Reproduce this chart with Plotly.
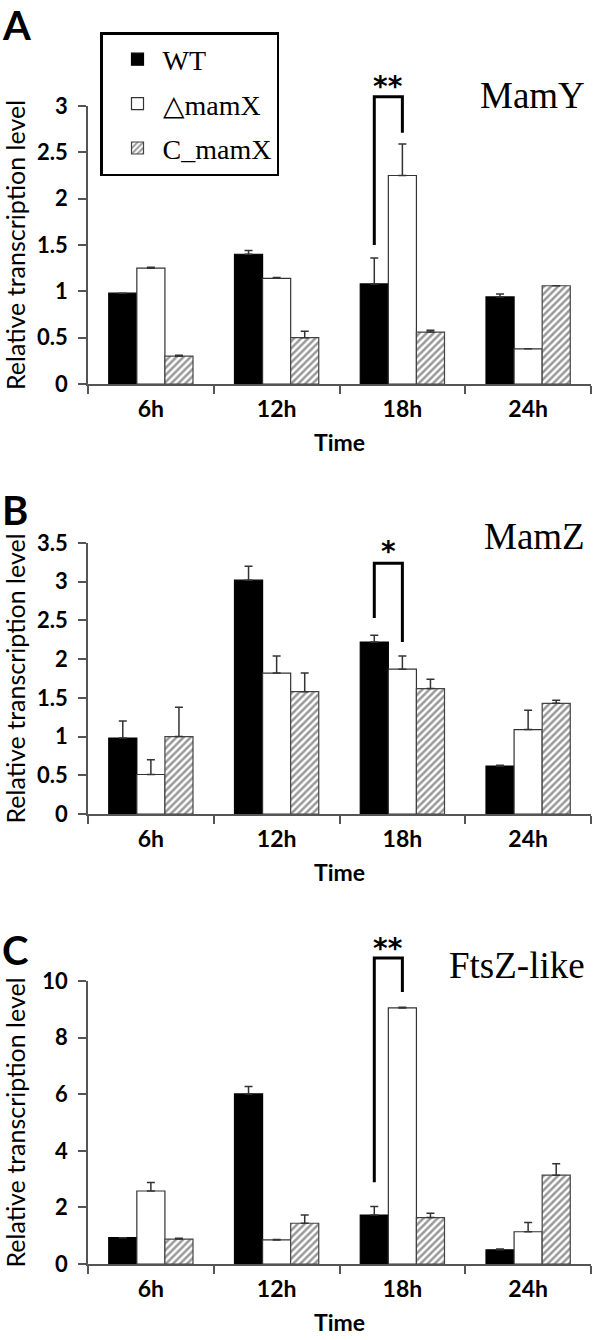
import plotly.graph_objects as go

# ---------------- data ----------------
times = ["6h", "12h", "18h", "24h"]
series_names = ["WT", "\u25b3mamX", "C_mamX"]

mamy_wt = [0.98, 1.40, 1.08, 0.94]
mamy_wt_err = [0.0, 0.04, 0.28, 0.03]
mamy_dmamx = [1.25, 1.14, 2.25, 0.38]
mamy_dmamx_err = [0.01, 0.01, 0.34, 0.0]
mamy_cmamx = [0.30, 0.50, 0.56, 1.06]
mamy_cmamx_err = [0.01, 0.07, 0.02, 0.0]

mamz_wt = [0.98, 3.02, 2.22, 0.62]
mamz_wt_err = [0.22, 0.18, 0.09, 0.01]
mamz_dmamx = [0.51, 1.82, 1.87, 1.09]
mamz_dmamx_err = [0.19, 0.22, 0.17, 0.25]
mamz_cmamx = [1.00, 1.58, 1.62, 1.43]
mamz_cmamx_err = [0.38, 0.24, 0.12, 0.04]

ftsz_wt = [0.93, 6.01, 1.73, 0.50]
ftsz_wt_err = [0.0, 0.26, 0.30, 0.03]
ftsz_dmamx = [2.58, 0.85, 9.05, 1.14]
ftsz_dmamx_err = [0.30, 0.02, 0.02, 0.33]
ftsz_cmamx = [0.88, 1.44, 1.64, 3.14]
ftsz_cmamx_err = [0.03, 0.29, 0.15, 0.40]

gene_labels = ["MamY", "MamZ", "FtsZ-like"]
panel_letters = ["A", "B", "C"]
y_max = [3, 3.5, 10]
y_dtick = [0.5, 0.5, 2]

# significance brackets (18h: WT vs deltamamX)
sig_category = "18h"
sig_text = ["**", "*", "**"]
sig_top = [3.10, 3.24, 10.81]
sig_left_bottom = [1.50, 2.53, 2.89]
sig_right_bottom = [2.71, 2.22, 9.61]
sig_star_y = [3.29, 3.48, 11.40]

panels = [
    ([mamy_wt, mamy_dmamx, mamy_cmamx], [mamy_wt_err, mamy_dmamx_err, mamy_cmamx_err]),
    ([mamz_wt, mamz_dmamx, mamz_cmamx], [mamz_wt_err, mamz_dmamx_err, mamz_cmamx_err]),
    ([ftsz_wt, ftsz_dmamx, ftsz_cmamx], [ftsz_wt_err, ftsz_dmamx_err, ftsz_cmamx_err]),
]

# ---------------- layout geometry (pixels) ----------------
W, H = 600, 1340
x_left, x_right = 88, 591
panel_px = [(106, 384), (543, 814), (981, 1264)]   # (top, bottom) of y axis
gene_px = [95, 536, 966]
letter_top_px = [0, 485, 925]
ext_px = 50           # extra room above axes for the brackets
bargap = 0.33
title_standoff = [22, 22, 27]

SANS = "Lato"
SERIF = "Liberation Serif, Times New Roman, serif"
AX = "#555555"

fills = ["black", "white", "white"]
lines = ["black", "#333333", "#444444"]
patterns = [None, None, dict(shape="/", fgcolor="#333333", bgcolor="white", size=5, solidity=0.5)]

fig = go.Figure()
annotations = []

for i, (vals, errs) in enumerate(panels):
    n = i + 1
    xa = "x" if n == 1 else f"x{n}"
    ya = "y" if n == 1 else f"y{n}"
    for s in range(3):
        fig.add_trace(go.Bar(
            x=times, y=vals[s], name=series_names[s],
            legendgroup=series_names[s], showlegend=(i == 0),
            xaxis=xa, yaxis=ya,
            marker=dict(color=fills[s], line=dict(color=lines[s], width=1.2),
                        pattern=patterns[s]),
            error_y=dict(type="data", symmetric=False, array=errs[s],
                         arrayminus=[0] * len(errs[s]),
                         color="#333333", thickness=1.5, width=4),
        ))

    top, bot = panel_px[i]
    dom_y = [1 - bot / H, 1 - top / H]
    dom_x = [x_left / W, x_right / W]
    # helper axes for the bracket: same scale, taller domain
    ext_top = top - ext_px
    dom_y_ext = [1 - bot / H, 1 - ext_top / H]
    ext_range = [0, y_max[i] * (bot - ext_top) / (bot - top)]
    bx = f"x{n + 3}"
    by = f"y{n + 3}"

    w = (1 - bargap) / 3
    ci = times.index(sig_category)
    xl, xr = ci - w, ci
    fig.add_trace(go.Scatter(
        x=[xl, xl, xr, xr],
        y=[sig_left_bottom[i], sig_top[i], sig_top[i], sig_right_bottom[i]],
        mode="lines", line=dict(color="black", width=3),
        xaxis=bx, yaxis=by, cliponaxis=False, showlegend=False, hoverinfo="skip",
    ))
    annotations.append(dict(
        x=(xl + xr) / 2, y=sig_star_y[i], xref=bx, yref=by, text=sig_text[i],
        showarrow=False, font=dict(family="DejaVu Sans", size=28, color="black", weight="bold"),
        xanchor="center", yanchor="middle", yshift=-7))

    key = "" if n == 1 else str(n)
    fig.update_layout(**{
        f"xaxis{key}": dict(
            domain=dom_x, anchor=ya, type="category", categoryarray=times,
            range=[-0.5, 3.5], tickson="boundaries", ticks="outside", ticklen=8,
            tickcolor=AX, tickwidth=1.5, showline=True, linecolor=AX, linewidth=1.5,
            showgrid=False, zeroline=False, ticklabelstandoff=4,
            tickfont=dict(family=SANS, size=23, color="black", weight="bold"),
            title=dict(text="Time", font=dict(family=SANS, size=23, color="black", weight="bold"),
                       standoff=14),
        ),
        f"yaxis{key}": dict(
            domain=dom_y, anchor=xa, range=[0, y_max[i]], dtick=y_dtick[i], tick0=0,
            ticks="outside", ticklen=8, tickcolor=AX, tickwidth=1.5,
            showline=True, linecolor=AX, linewidth=1.5, showgrid=False, zeroline=False,
            ticklabelstandoff=6,
            tickfont=dict(family=SANS, size=22, color="black", weight="bold"),
            title=dict(text="Relative transcription level",
                       font=dict(family=SANS, size=25, color="black"),
                       standoff=title_standoff[i]),
        ),
        f"xaxis{n + 3}": dict(
            domain=dom_x, anchor=by, range=[-0.5, 3.5], visible=False, fixedrange=True,
        ),
        f"yaxis{n + 3}": dict(
            domain=dom_y_ext, anchor=bx, range=ext_range, visible=False, fixedrange=True,
        ),
    })
    # gene label
    annotations.append(dict(
        x=587 / W, y=1 - gene_px[i] / H, xref="paper", yref="paper",
        text=gene_labels[i], showarrow=False,
        font=dict(family=SERIF, size=37, color="black"),
        xanchor="right", yanchor="middle"))
    # panel letter
    annotations.append(dict(
        x=1 / W, y=1 - letter_top_px[i] / H, xref="paper", yref="paper",
        text=panel_letters[i], showarrow=False,
        font=dict(family=SANS, size=40, color="black", weight="bold"),
        xanchor="left", yanchor="top", borderpad=0))

fig.update_layout(
    width=W, height=H,
    margin=dict(l=0, r=0, t=0, b=0, autoexpand=False),
    paper_bgcolor="white", plot_bgcolor="rgba(0,0,0,0)",
    barmode="group", bargap=bargap, bargroupgap=0,
    font=dict(family=SANS, color="black"),
    annotations=annotations,
    legend=dict(
        x=100 / W, y=1 - 32 / H, xanchor="left", yanchor="top",
        bordercolor="black", borderwidth=2.5, bgcolor="white",
        font=dict(family=SERIF, size=28, color="black"),
        tracegroupgap=5, itemwidth=40, indentation=10,
    ),
)

fig.write_html("out.html", config={"displayModeBar": False},
               post_script="document.body.style.margin='0px';")
